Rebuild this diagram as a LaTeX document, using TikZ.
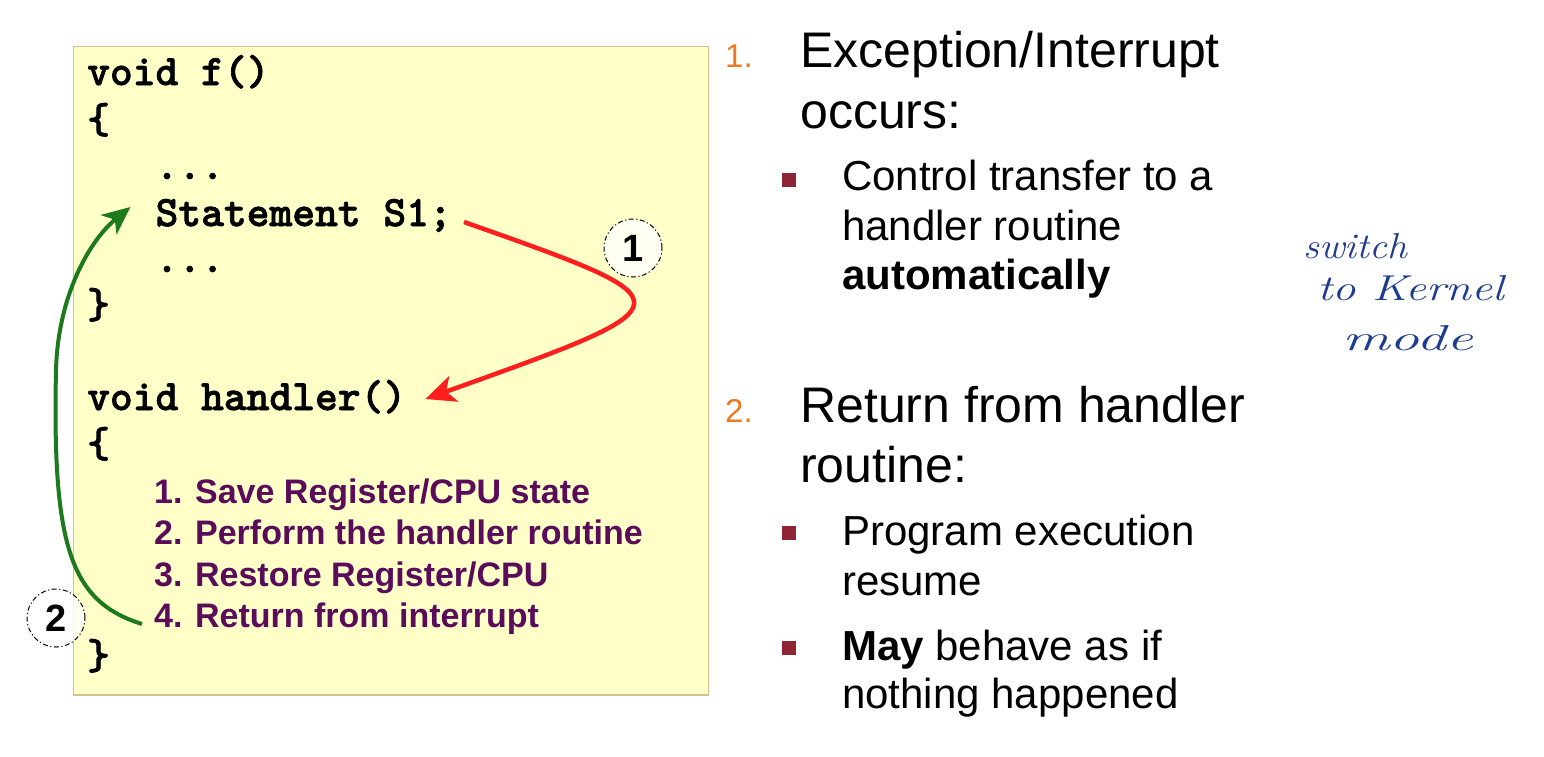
\documentclass[tikz,border=0pt]{standalone}
\usepackage{fontspec}
\newfontfamily\sansfam{Liberation Sans}
\newfontfamily\monofam[FakeBold=1.6]{lmmonolt10-bold.otf}
\usetikzlibrary{arrows.meta}

\definecolor{panelfill}{HTML}{FFFFC8}
\definecolor{panelborder}{HTML}{D6BE8E}
\definecolor{steppurple}{HTML}{5A0C5A}
\definecolor{numorange}{HTML}{EE7A22}
\definecolor{bulletred}{HTML}{8E2434}
\definecolor{jumpred}{HTML}{FF1E1E}
\definecolor{returngreen}{HTML}{1C7A1C}
\definecolor{inkblue}{HTML}{1E3C8C}

\tikzset{
  codepanel/.style={draw=panelborder, line width=1.5pt, fill=panelfill, inner sep=0pt},
  codeline/.style={anchor=base west, inner sep=0pt,
    font=\monofam\fontsize{43.4}{43.4}\selectfont},
  stepline/.style={anchor=base west, inner sep=0pt, text=steppurple,
    font=\sansfam\bfseries\fontsize{34}{34}\selectfont},
  headline/.style={anchor=base west, inner sep=0pt,
    font=\sansfam\fontsize{50}{50}\selectfont},
  subline/.style={anchor=base west, inner sep=0pt,
    font=\sansfam\fontsize{42}{42}\selectfont},
  listnum/.style={anchor=base west, inner sep=0pt, text=numorange,
    font=\sansfam\fontsize{33}{33}\selectfont},
  bulletsq/.style={fill=bulletred, minimum size=14pt, inner sep=0pt},
  badge/.style={circle, draw=black, line width=1pt,
    dash pattern=on 5pt off 2.5pt on 1.2pt off 2.5pt,
    fill=white, fill opacity=0.8, text opacity=1,
    minimum size=58pt, inner sep=0pt,
    font=\sansfam\bfseries\fontsize{38}{38}\selectfont},
  handnote/.style={anchor=base west, inner sep=0pt, text=inkblue,
    font=\itshape\fontsize{36}{36}\selectfont},
  jump/.style={draw=jumpred, line width=4.5pt,
    -{Stealth[length=30pt, width=27pt, inset=8pt]}},
  comeback/.style={draw=returngreen, line width=4pt,
    -{Stealth[length=28pt, width=25pt, inset=8pt]}}
}

\begin{document}
\begin{tikzpicture}[x=1pt, y=-1pt]
  \fill[white] (0,0) rectangle (1544,756);
  \useasboundingbox (0,0) rectangle (1544,756);

  % code panel
  \node[codepanel, anchor=north west, minimum width=635pt, minimum height=648.5pt]
    (panel) at (72.5,45.5) {};

  % function f
  \node[codeline] (fhead)  at (87,85)    {void f()};
  \node[codeline] (fopen)  at (87,133)   {\{};
  \node[codeline] (fdots1) at (155.4,179) {...};
  \node[codeline] (stmt)   at (155.4,226) {Statement S1;};
  \node[codeline] (fdots2) at (155.4,272) {...};
  \node[codeline] (fclose) at (87,318)   {\}};

  % handler
  \node[codeline] (handler) at (87,410)  {void handler()};
  \node[codeline] (hopen)   at (87,457)  {\{};
  \node[stepline] (save)    at (154,503) {1. Save Register/CPU state};
  \node[stepline] (perform) at (154,544) {2. Perform the handler routine};
  \node[stepline] (restore) at (154,586) {3. Restore Register/CPU};
  \node[stepline] (ret)     at (154,627) {4. Return from interrupt};
  \node[codeline] (hclose)  at (87,669)  {\}};

  % control transfer into the handler
  \draw[jump] ([shift={(12,-4)}]stmt.base east)
    .. controls (694,303) and (694,303) .. ([shift={(19,-11)}]handler.base east);

  % return to the interrupted code
  \coordinate (bend) at (56,370);
  \draw[comeback] ([shift={(-12,-3)}]ret.base west)
    .. controls (72,602) and (52,550) .. (bend)
    .. controls (58,295) and (90,240) .. ([shift={(-25,-19)}]stmt.base west);

  % step badges
  \node[badge] (b1) at (633,248) {1};
  \node[badge] (b2) at (56,618) {2};

  % explanation list
  \node[listnum]  (n1)  at (725,67)  {1.};
  \node[headline] (h1a) at (800,67)  {Exception/Interrupt};
  \node[headline] (h1b) at (800,128) {occurs:};
  \node[bulletsq] (q1)  at (789,180) {};
  \node[subline]  (t1a) at (842,190) {Control transfer to a};
  \node[subline]  (t1b) at (842,240) {handler routine};
  \node[subline, font=\sansfam\bfseries\fontsize{42}{42}\selectfont]
                  (t1c) at (842,289) {automatically};

  \node[listnum]  (n2)  at (725,422) {2.};
  \node[headline] (h2a) at (800,422) {Return from handler};
  \node[headline] (h2b) at (800,482) {routine:};
  \node[bulletsq] (q2)  at (789,533) {};
  \node[subline]  (t2a) at (842,545) {Program execution};
  \node[subline]  (t2b) at (842,595) {resume};
  \node[bulletsq] (q3)  at (789,648) {};
  \node[subline]  (t3a) at (842,660) {\textbf{May} behave as if};
  \node[subline]  (t3b) at (842,708) {nothing happened};

  % handwritten margin note
  \node[handnote] (w1) at (1303,258) {\scalebox{1.1}[1]{switch}};
  \node[handnote] (w2) at (1317,300) {\scalebox{1.3}[1]{to Kernel}};
  \node[handnote] (w3) at (1342,350) {\scalebox{1.65}[1]{mode}};
\end{tikzpicture}
\end{document}
